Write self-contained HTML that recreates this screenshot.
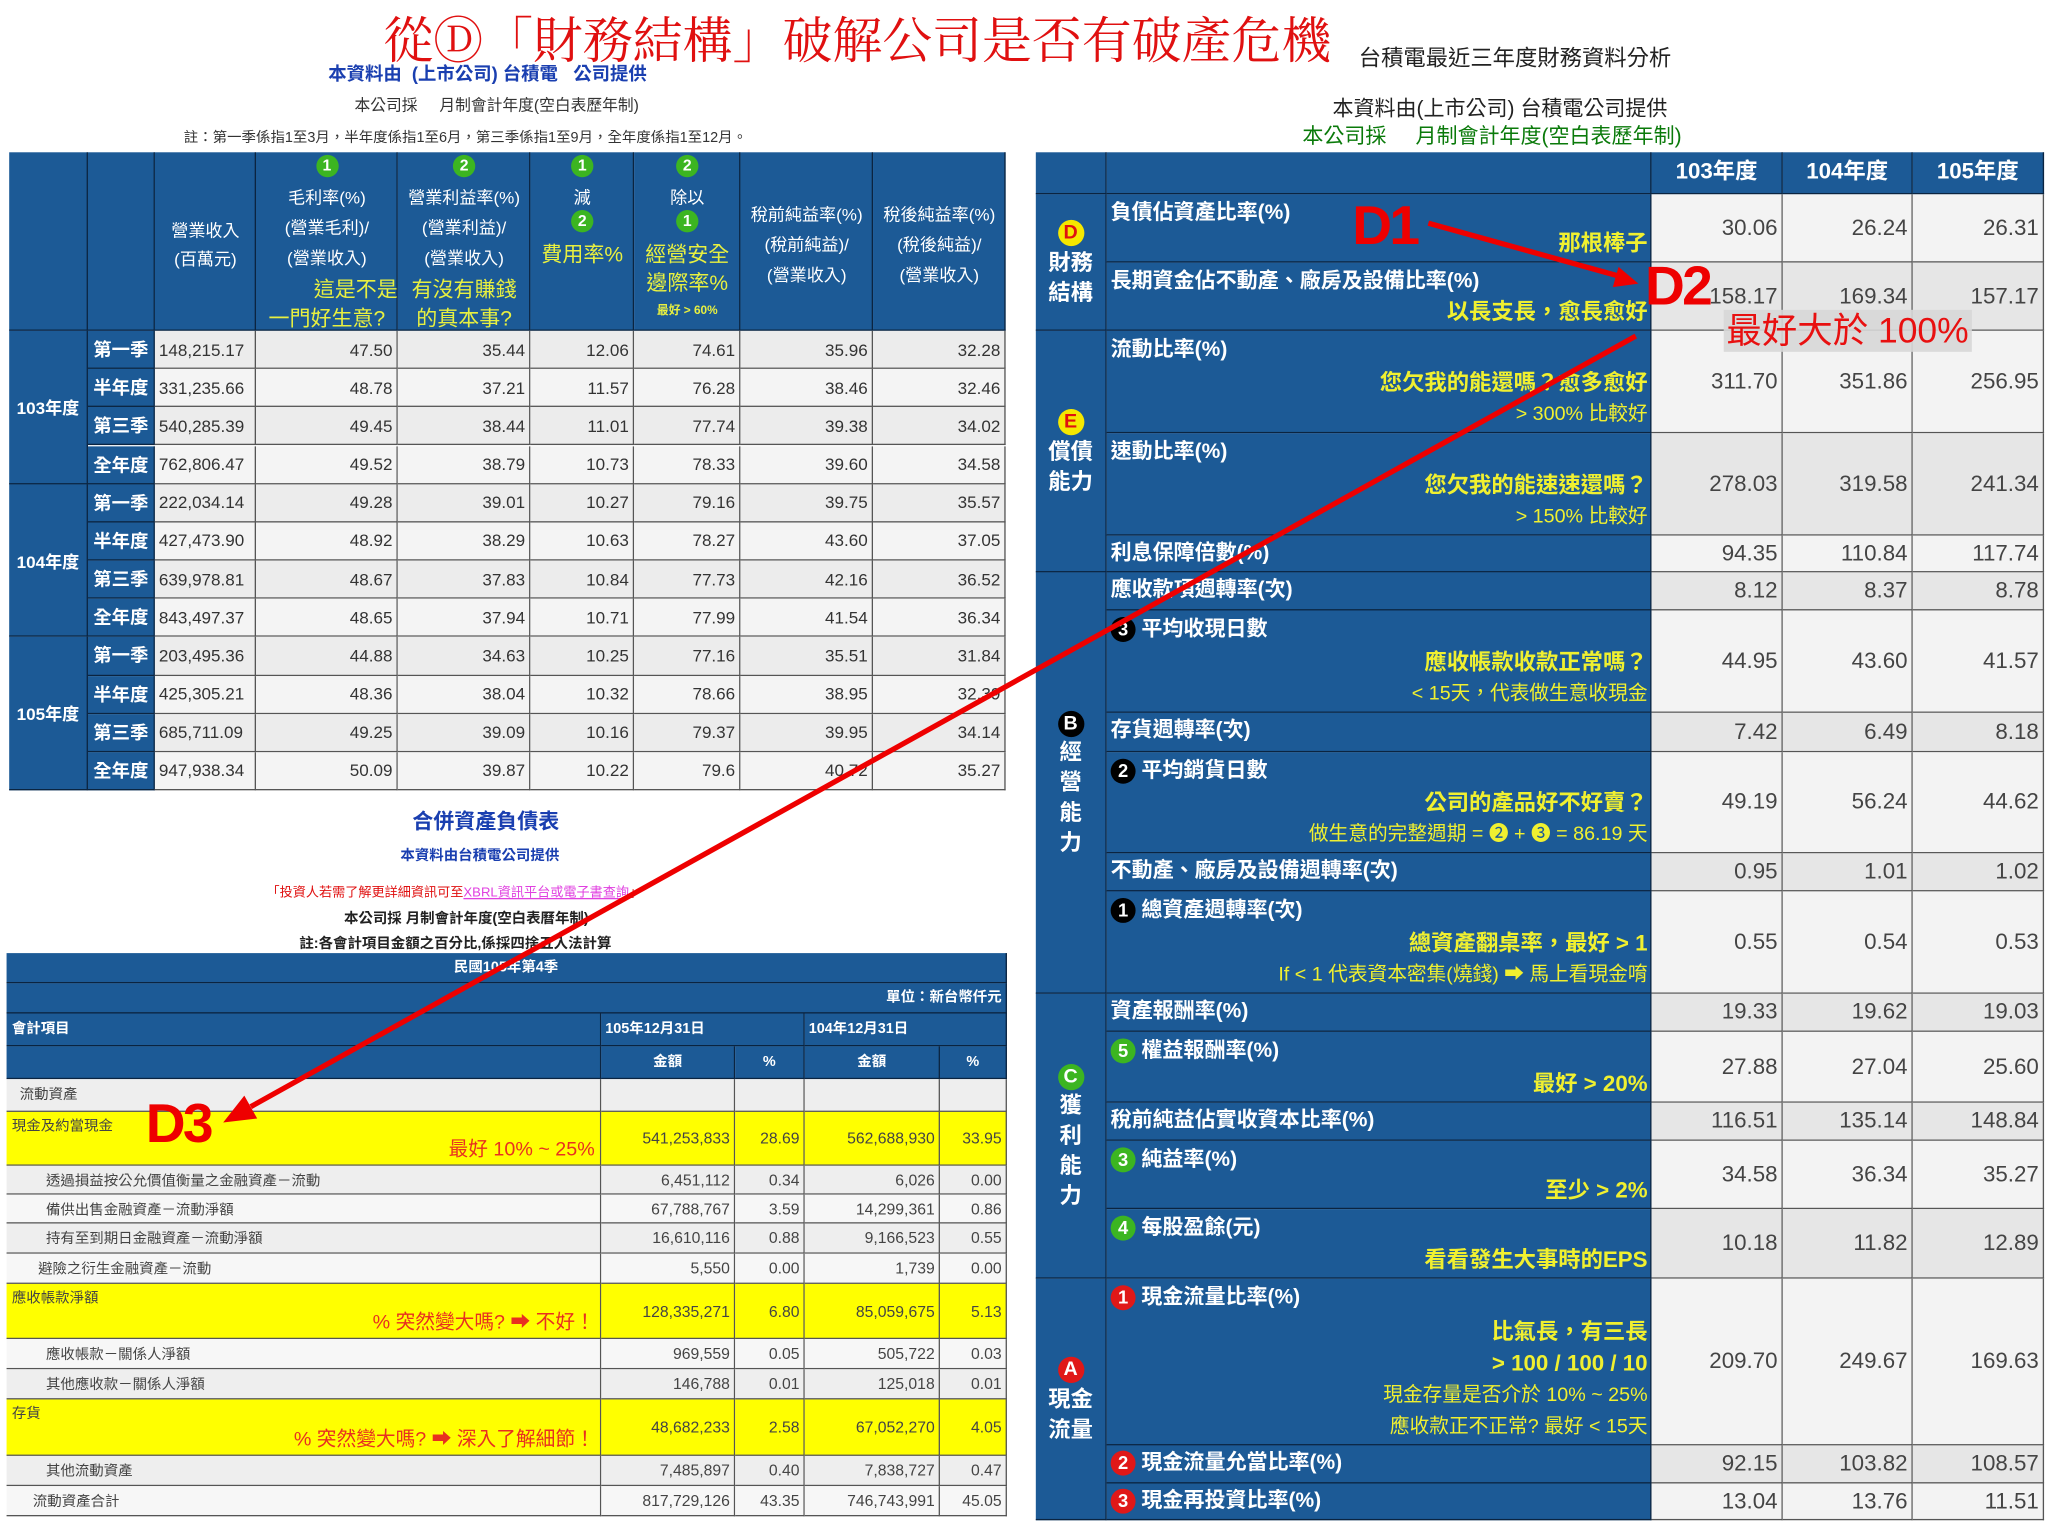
<!DOCTYPE html>
<html><head><meta charset="utf-8">
<style>
html,body{margin:0;padding:0;background:#fff;width:2048px;height:1528px;overflow:hidden;}
#stage{position:absolute;left:0;top:0;width:1560px;height:1164px;transform:scale(1.31282);transform-origin:0 0;font-family:"Liberation Sans","Noto Sans CJK TC",sans-serif;}
.c{position:absolute;box-sizing:border-box;overflow:hidden;}
.t{position:absolute;white-space:nowrap;}
.blue{background:#1c5a96;color:#fff;border-right:1px solid #0b2440;border-bottom:1.5px solid #0b2440;}
.cell{background:#eeeeee;border-right:1px solid #555;border-bottom:1px solid #555;color:#333;}
.num{display:flex;align-items:center;justify-content:flex-end;padding-right:3px;}
.circ{display:inline-block;border-radius:50%;text-align:center;font-weight:bold;vertical-align:middle;}
.y{color:#f0f030;}
</style></head><body>
<div id="stage">
<div class="t" style="left:292px;top:0px;font-size:38px;color:#e01010;font-family:'Noto Serif CJK SC','Liberation Serif',serif;">從Ⓓ「財務結構」破解公司是否有破產危機</div>
<div class="t" style="left:1035px;top:30px;font-size:17px;color:#222;">台積電最近三年度財務資料分析</div>
<div class="t" style="left:250px;top:46px;font-size:14px;color:#1a3fb0;font-weight:bold;">本資料由 &nbsp;(上市公司) 台積電 &nbsp; 公司提供</div>
<div class="t" style="left:270px;top:71px;font-size:12px;color:#333;">本公司採 &nbsp; &nbsp; 月制會計年度(空白表歷年制)</div>
<div class="t" style="left:140px;top:96px;font-size:11px;color:#333;">註：第一季係指1至3月，半年度係指1至6月，第三季係指1至9月，全年度係指1至12月。</div>
<div class="t" style="left:1015px;top:73px;font-size:16px;color:#222;line-height:22px;">本資料由(上市公司) 台積電公司提供</div>
<div class="t" style="left:992px;top:95px;font-size:16px;color:#0a7a0a;line-height:20px;">本公司採 &nbsp; &nbsp; 月制會計年度(空白表歷年制)</div>

<div class="t" style="left:314px;top:612px;font-size:16px;color:#1a3fb0;font-weight:bold;">合併資產負債表</div>
<div class="t" style="left:305px;top:643px;font-size:11px;color:#1a3fb0;font-weight:bold;">本資料由台積電公司提供</div>
<div class="t" style="left:203px;top:671px;font-size:10px;color:#e01010;">「投資人若需了解更詳細資訊可至<span style="color:#e040e0;text-decoration:underline">XBRL資訊平台或電子書查詢</span>」</div>
<div class="t" style="left:262px;top:691px;font-size:11px;color:#222;font-weight:bold;">本公司採 月制會計年度(空白表曆年制)</div>
<div class="t" style="left:228px;top:710px;font-size:11px;color:#222;font-weight:bold;">註:各會計項目金額之百分比,係採四捨五入法計算</div>
</div>

<script>
// ---------- data: left quarterly table ----------
const years = ['103年度','104年度','105年度'];
const quarters = ['第一季','半年度','第三季','全年度'];
const revenue = ['148,215.17','331,235.66','540,285.39','762,806.47','222,034.14','427,473.90','639,978.81','843,497.37','203,495.36','425,305.21','685,711.09','947,938.34'];
const grossMargin = ['47.50','48.78','49.45','49.52','49.28','48.92','48.67','48.65','44.88','48.36','49.25','50.09'];
const opMargin = ['35.44','37.21','38.44','38.79','39.01','38.29','37.83','37.94','34.63','38.04','39.09','39.87'];
const expenseRate = ['12.06','11.57','11.01','10.73','10.27','10.63','10.84','10.71','10.25','10.32','10.16','10.22'];
const safetyMargin = ['74.61','76.28','77.74','78.33','79.16','78.27','77.73','77.99','77.16','78.66','79.37','79.6'];
const pretaxMargin = ['35.96','38.46','39.38','39.60','39.75','43.60','42.16','41.54','35.51','38.95','39.95','40.72'];
const aftertaxMargin = ['32.28','32.46','34.02','34.58','35.57','37.05','36.52','36.34','31.84','32.39','34.14','35.27'];

// ---------- data: right ratio table ----------
const ratioYears = ['103年度','104年度','105年度'];
const ratioLabels = ['負債佔資產比率(%)','長期資金佔不動產、廠房及設備比率(%)','流動比率(%)','速動比率(%)','利息保障倍數(%)','應收款項週轉率(次)','平均收現日數','存貨週轉率(次)','平均銷貨日數','不動產、廠房及設備週轉率(次)','總資產週轉率(次)','資產報酬率(%)','權益報酬率(%)','稅前純益佔實收資本比率(%)','純益率(%)','每股盈餘(元)','現金流量比率(%)','現金流量允當比率(%)','現金再投資比率(%)'];
const ratioBadges = ['','','','','','','b3','','b2','','b1','','g5','','g3','g4','r1','r2','r3'];
const ratioHints = [['*那根棒子'],['*以長支長，愈長愈好'],['*您欠我的能還嗎？愈多愈好','> 300% 比較好'],['*您欠我的能速速還嗎？','> 150% 比較好'],[],[],['*應收帳款收款正常嗎？','< 15天，代表做生意收現金'],[],['*公司的產品好不好賣？','做生意的完整週期 = ❷ + ❸ = 86.19 天'],[],['*總資產翻桌率，最好 > 1','If < 1 代表資本密集(燒錢) ➡ 馬上看現金唷'],[],['*最好 > 20%'],[],['*至少 > 2%'],['*看看發生大事時的EPS'],['*比氣長，有三長','*> 100 / 100 / 10','現金存量是否介於 10% ~ 25%','應收款正不正常? 最好 < 15天'],[],[]];
const ratio103 = ['30.06','158.17','311.70','278.03','94.35','8.12','44.95','7.42','49.19','0.95','0.55','19.33','27.88','116.51','34.58','10.18','209.70','92.15','13.04'];
const ratio104 = ['26.24','169.34','351.86','319.58','110.84','8.37','43.60','6.49','56.24','1.01','0.54','19.62','27.04','135.14','36.34','11.82','249.67','103.82','13.76'];
const ratio105 = ['26.31','157.17','256.95','241.34','117.74','8.78','41.57','8.18','44.62','1.02','0.53','19.03','25.60','148.84','35.27','12.89','169.63','108.57','11.51'];
const ratioGroups = [['D','財務<br>結構',2,'#f5e800','#e01010'],['E','償債<br>能力',3,'#f5e800','#e01010'],['B','經<br>營<br>能<br>力',6,'#000','#fff'],['C','獲<br>利<br>能<br>力',5,'#3cb521','#fff'],['A','現金<br>流量',3,'#e01818','#fff']];

// ---------- data: balance sheet ----------
const bsLabels = ['流動資產','現金及約當現金','透過損益按公允價值衡量之金融資產－流動','備供出售金融資產－流動淨額','持有至到期日金融資產－流動淨額','避險之衍生金融資產－流動','應收帳款淨額','應收帳款－關係人淨額','其他應收款－關係人淨額','存貨','其他流動資產','流動資產合計'];
const bsAmt105 = ['','541,253,833','6,451,112','67,788,767','16,610,116','5,550','128,335,271','969,559','146,788','48,682,233','7,485,897','817,729,126'];
const bsPct105 = ['','28.69','0.34','3.59','0.88','0.00','6.80','0.05','0.01','2.58','0.40','43.35'];
const bsAmt104 = ['','562,688,930','6,026','14,299,361','9,166,523','1,739','85,059,675','505,722','125,018','67,052,270','7,838,727','746,743,991'];
const bsPct104 = ['','33.95','0.00','0.86','0.55','0.00','5.13','0.03','0.01','4.05','0.47','45.05'];
const bsHints = ['','最好 10% ~ 25%','','','','','% 突然變大嗎? ➡ 不好！','','','% 突然變大嗎? ➡ 深入了解細節！','',''];

const S=document.getElementById('stage');
function box(x,y,w,h,cls,name,html){
  const el=document.createElement('div');
  el.className='c '+cls;
  el.style.left=x+'px';el.style.top=y+'px';el.style.width=w+'px';el.style.height=h+'px';
  
  
  if(html!=null) el.innerHTML=html;
  S.appendChild(el);return el;
}
function txt(x,y,html,style,name){
  const el=document.createElement('div');
  el.className='t';
  el.style.cssText='left:'+x+'px;top:'+y+'px;'+style;
  
  
  el.innerHTML=html;S.appendChild(el);return el;
}
function gc(n,bg,fg,d){return '<span class="circ" style="width:'+d+'px;height:'+d+'px;line-height:'+d+'px;font-size:'+(d-5)+'px;background:'+bg+';color:'+fg+'">'+n+'</span>';}

// ---------- LEFT TABLE ----------
const LX=[7,67,118,195,303,404,483,564,665,766];
const LTOP=116,LHB=252,LRH=29.17;
for(let i=0;i<9;i++) box(LX[i],LTOP,LX[i+1]-LX[i],LHB-LTOP,'blue','left-header-col-'+i);
function hcol(i,lines){
  lines.forEach(function(l){
    txt(LX[i],l[0],l[1],'width:'+(LX[i+1]-LX[i])+'px;text-align:'+(l[3]||'center')+';color:#fff;font-size:13px;'+(l[2]||''),'left-header-text');
  });
}
const G=function(n){return gc(n,'#3cb521','#fff',17);};
const YH='color:#e8f040;font-size:16px;';
hcol(2,[[165,'營業收入'],[187,'(百萬元)']]);
hcol(3,[[118,G(1)],[140,'毛利率(%)'],[163,'(營業毛利)/'],[186,'(營業收入)'],[207,'這是不是',YH,'right'],[229,'一門好生意?',YH]]);
hcol(4,[[118,G(2)],[140,'營業利益率(%)'],[163,'(營業利益)/'],[186,'(營業收入)'],[207,'有沒有賺錢',YH],[229,'的真本事?',YH]]);
hcol(5,[[118,G(1)],[140,'減'],[160,G(2)],[180,'費用率%',YH]]);
hcol(6,[[118,G(2)],[140,'除以'],[160,G(1)],[180,'經營安全',YH],[202,'邊際率%',YH],[229,'最好 > 60%','color:#e8f040;font-size:9px;font-weight:bold;']]);
hcol(7,[[153,'稅前純益率(%)'],[176,'(稅前純益)/'],[199,'(營業收入)']]);
hcol(8,[[153,'稅後純益率(%)'],[176,'(稅後純益)/'],[199,'(營業收入)']]);

const leftCols=[grossMargin,opMargin,expenseRate,safetyMargin,pretaxMargin,aftertaxMargin];
years.forEach(function(yr,yi){
  const y0=LHB+yi*4*LRH;
  box(LX[0],y0,LX[1]-LX[0],4*LRH,'blue','year-label','<div style="position:absolute;top:50%;transform:translateY(-50%);width:100%;text-align:center;font-weight:bold;font-size:13px;">'+yr+'</div>');
});
revenue.forEach(function(v,r){
  const y=LHB+r*LRH;
  const bg=(r%2==0)?'#ececec':'#f4f4f4';
  box(LX[1],y,LX[2]-LX[1],LRH,'blue','quarter-label','<div style="position:absolute;top:50%;transform:translateY(-50%);width:100%;text-align:center;font-weight:bold;font-size:14px;">'+quarters[r%4]+'</div>');
  const rc=box(LX[2],y,LX[3]-LX[2],LRH,'cell num','revenue-cell',v);
  rc.style.justifyContent='flex-start';rc.style.paddingLeft='3px';rc.style.fontSize='13px';rc.style.background=bg;
  leftCols.forEach(function(arr,ci){
    const c=box(LX[3+ci],y,LX[4+ci]-LX[3+ci],LRH,'cell num','ratio-cell',arr[r]);
    c.style.fontSize='13px';c.style.background=bg;
  });
});

// ---------- RIGHT TABLE ----------
const RX=[789,843,1258,1358,1457,1557];
const rowH=[52,52,78,78,28,29,78,30,77,29,78,29,54,29,52,53,127,29,28];
box(RX[0],116,RX[1]-RX[0],32,'blue','ratio-header-blank');
box(RX[1],116,RX[2]-RX[1],32,'blue','ratio-header-label');
ratioYears.forEach(function(y,i){
  box(RX[2+i],116,RX[3+i]-RX[2+i],32,'blue','ratio-year-header','<div style="text-align:center;line-height:30px;font-weight:bold;font-size:17px;">'+y+'</div>');
});
let ry=148;const rowY=[];
rowH.forEach(function(h){rowY.push(ry);ry+=h;});
let gi=0;
ratioGroups.forEach(function(g){
  const y0=rowY[gi];let h=0;for(let k=0;k<g[2];k++)h+=rowH[gi+k];
  box(RX[0],y0,RX[1]-RX[0],h,'blue','category-'+g[0],'<div style="position:absolute;top:50%;transform:translateY(-50%);width:100%;text-align:center;font-weight:bold;font-size:17px;line-height:23px;">'+gc(g[0],g[3],g[4],20)+'<br>'+g[1]+'</div>');
  gi+=g[2];
});
const badgeColors={b:['#000','#fff'],g:['#3cb521','#fff'],r:['#e01818','#fff']};
ratioLabels.forEach(function(lab,i){
  const y=rowY[i],h=rowH[i];
  const bd=ratioBadges[i];
  let badge='';
  if(bd){const cc=badgeColors[bd[0]];badge=gc(bd[1],cc[0],cc[1],19)+' ';}
  const lc=box(RX[1],y,RX[2]-RX[1],h,'blue','ratio-label-cell');
  const l=document.createElement('div');
  l.style.cssText='position:absolute;left:3px;top:'+(h<35?4:5)+'px;font-weight:bold;font-size:16px;line-height:20px;';
  l.innerHTML=badge+lab;lc.appendChild(l);
  if(ratioHints[i].length){
    const hd=document.createElement('div');
    hd.style.cssText='position:absolute;right:2px;bottom:1px;text-align:right;line-height:24px;color:#f0f030;';
    hd.innerHTML=ratioHints[i].map(function(s){return s[0]=='*'?'<div style="font-weight:bold;font-size:17px;">'+s.slice(1)+'</div>':'<div style="font-size:15px;">'+s+'</div>';}).join('');
    lc.appendChild(hd);
  }
  const bg=(i%2==0)?'#f3f3f3':'#e6e6e6';
  [ratio103,ratio104,ratio105].forEach(function(arr,k){
    const c=box(RX[2+k],y,RX[3+k]-RX[2+k],h,'cell num','ratio-value-'+ratioYears[k],arr[i]);
    c.style.fontSize='17px';c.style.background=bg;c.style.color='#444';
  });
});

// ---------- BALANCE SHEET ----------
const BX=[5,458,560,613,716,767];
box(BX[0],726,BX[5]-BX[0],23,'blue','bs-period-header','<div style="text-align:center;font-weight:bold;font-size:11px;line-height:22px;">民國105年第4季</div>');
box(BX[0],749,BX[5]-BX[0],23,'blue','bs-unit-header','<div style="text-align:right;padding-right:3px;font-weight:bold;font-size:11px;line-height:22px;">單位：新台幣仟元</div>');
box(BX[0],772,BX[1]-BX[0],25,'blue','bs-item-header','<div style="padding-left:4px;font-weight:bold;font-size:11px;line-height:24px;">會計項目</div>');
box(BX[1],772,BX[3]-BX[1],25,'blue','bs-date-105','<div style="padding-left:3px;font-weight:bold;font-size:11px;line-height:24px;">105年12月31日</div>');
box(BX[3],772,BX[5]-BX[3],25,'blue','bs-date-104','<div style="padding-left:3px;font-weight:bold;font-size:11px;line-height:24px;">104年12月31日</div>');
box(BX[0],797,BX[1]-BX[0],25,'blue','bs-sub-blank');
['金額','%','金額','%'].forEach(function(s,k){
  box(BX[1+k],797,BX[2+k]-BX[1+k],25,'blue','bs-sub-header','<div style="text-align:center;font-weight:bold;font-size:11px;line-height:24px;">'+s+'</div>');
});
const bsH=[25,41,22,22,23,23,42,23,23,43,23,23];
const bsIndent=[10,4,30,30,30,24,4,30,30,4,30,20];
let by=822;
bsLabels.forEach(function(lab,i){
  const h=bsH[i];const hl=bsHints[i]!==''||i==1;
  const bg=hl?'#ffff00':((i%2==0)?'#eeeeee':'#f7f7f7');
  const c=box(BX[0],by,BX[1]-BX[0],h,'cell','bs-label-cell');
  c.style.background=bg;
  const l=document.createElement('div');
  l.style.cssText='position:absolute;left:'+bsIndent[i]+'px;top:'+(hl?3:4)+'px;font-size:11px;color:#444;line-height:16px;';
  l.textContent=lab;c.appendChild(l);
  if(bsHints[i]){
    const hd=document.createElement('div');
    hd.style.cssText='position:absolute;right:4px;bottom:1px;font-size:15px;color:#e83020;line-height:20px;';
    hd.textContent=bsHints[i];c.appendChild(hd);
  }
  [bsAmt105,bsPct105,bsAmt104,bsPct104].forEach(function(arr,k){
    const v=box(BX[1+k],by,BX[2+k]-BX[1+k],h,'cell num','bs-value-cell',arr[i]);
    v.style.background=bg;v.style.fontSize='12px';v.style.color='#444';
  });
  by+=h;
});

// ---------- annotations ----------
txt(1313,236,'最好大於 100%','font-size:27px;color:#e81010;background:rgba(215,215,215,0.9);padding:0 2px;line-height:32px;','d2-hint-label');
txt(1030,148,'D1','font-size:42px;font-weight:bold;color:#ee0000;letter-spacing:-2px;','d1-label');
txt(1253,194,'D2','font-size:42px;font-weight:bold;color:#ee0000;letter-spacing:-2px;','d2-label');
txt(111,832,'D3','font-size:42px;font-weight:bold;color:#ee0000;letter-spacing:-2px;','d3-label');
const ns='http://www.w3.org/2000/svg';
const svg=document.createElementNS(ns,'svg');
svg.setAttribute('width','1560');svg.setAttribute('height','1164');
svg.setAttribute('style','position:absolute;left:0;top:0;pointer-events:none;');


svg.innerHTML='<line x1="1088" y1="170" x2="1232" y2="210" stroke="#ee0000" stroke-width="4"/>'+
'<polygon points="1248,216 1228.5,218.7 1232.9,203.3" fill="#ee0000"/>'+
'<line x1="1246" y1="256" x2="191" y2="843" stroke="#ee0000" stroke-width="4"/>'+
'<polygon points="170,855 186.1,834.6 195.9,852" fill="#ee0000"/>';
S.appendChild(svg);
</script>
</body></html>
